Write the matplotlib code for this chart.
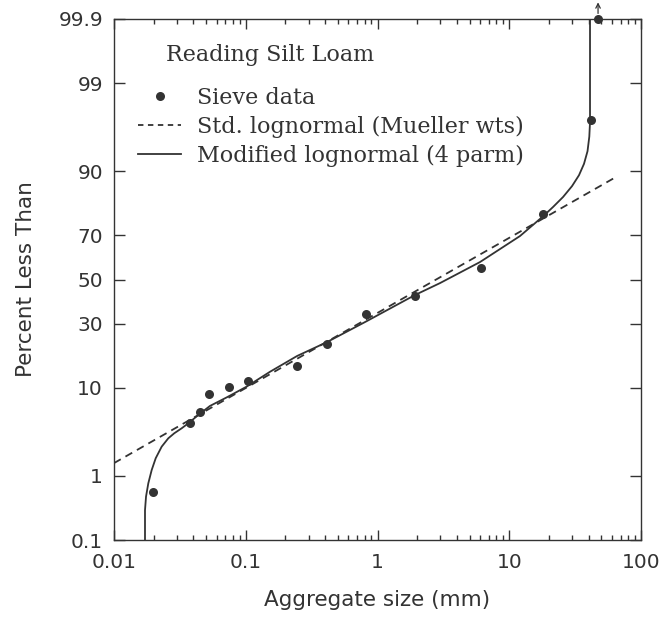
import math
import numpy as np
import matplotlib
matplotlib.use("Agg")
import matplotlib.pyplot as plt
from matplotlib.ticker import FixedLocator, NullLocator, LogLocator, FuncFormatter
from matplotlib.lines import Line2D

# sieve data (size in mm, percent less than)
sieve_size = [0.0198, 0.0377, 0.045, 0.0526, 0.0746, 0.104, 0.245, 0.414,
              0.818, 1.93, 6.1, 18.0, 41.8, 47.2]
sieve_pct = [0.58, 4.4, 5.8, 8.7, 10.1, 11.4, 15.2, 22.2,
             34.1, 42.2, 55.4, 78.1, 97.1, 99.9]

# standard lognormal fit (straight line on probability paper)
std_size = [0.01, 64.6]
std_pct = [1.47, 88.8]

# modified lognormal (4 parm)
mod_size = [0.01719, 0.01719, 0.01750, 0.01821, 0.01932, 0.02073, 0.02301,
            0.02583, 0.02869, 0.03264, 0.03664, 0.04364, 0.0535, 0.0717,
            0.1017, 0.153, 0.245, 0.414, 0.818, 1.926, 2.981, 5.998,
            12.07, 18.13, 21.48, 25.59, 29.95, 33.84, 36.93, 39.27, 40.52,
            41.02, 41.02]
mod_pct = [0.1, 0.31, 0.50, 0.78, 1.19, 1.70, 2.37,
           2.98, 3.41, 3.88, 4.40, 5.40, 6.68, 8.1,
           10.2, 13.7, 18.2, 22.9, 30.9, 42.7, 48.3, 58.2,
           69.7, 77.4, 80.5, 83.6, 86.6, 89.2, 91.5, 93.6, 95.5,
           96.9, 99.9]

y_ticks = [0.1, 1, 10, 30, 50, 70, 90, 99, 99.9]
x_ticks = [0.01, 0.1, 1, 10, 100]

INK = "#333333"

_erf = np.vectorize(math.erf, otypes=[float])


def pct_to_z(p):
    # percent -> standard normal quantile (Newton iterations)
    p = np.clip(np.asarray(p, dtype=float) / 100.0, 1e-9, 1 - 1e-9)
    z = np.zeros_like(p)
    for _ in range(60):
        cdf = 0.5 * (1.0 + _erf(z / math.sqrt(2.0)))
        pdf = np.exp(-0.5 * z * z) / math.sqrt(2.0 * math.pi)
        z = z - (cdf - p) / pdf
    return z


def z_to_pct(z):
    z = np.asarray(z, dtype=float)
    return 50.0 * (1.0 + _erf(z / math.sqrt(2.0)))


fig = plt.figure(figsize=(6.67, 6.2), dpi=100)
ax = fig.add_axes([114 / 667, 80 / 620, 527 / 667, 521 / 620])

ax.set_xscale("log")
ax.set_yscale("function", functions=(pct_to_z, z_to_pct))
ax.set_xlim(0.01, 100)
ax.set_ylim(0.1, 99.9)

ax.plot(mod_size, mod_pct, color=INK, lw=1.3, zorder=3)
ax.plot(std_size, std_pct, color=INK, lw=1.3, ls=(0, (4.3, 3)), zorder=3)
ax.plot(sieve_size, sieve_pct, "o", color=INK, ms=6.5, mew=0, zorder=4,
        clip_on=False)

# last point is off the scale: little arrow above it
ax.annotate("", xy=(sieve_size[-1], 99.9), xytext=(0, 12),
            textcoords="offset points", annotation_clip=False,
            arrowprops=dict(arrowstyle="<-", color=INK, lw=0.9,
                            shrinkA=0, shrinkB=4, mutation_scale=8))

# axes styling
ax.xaxis.set_major_locator(FixedLocator(x_ticks))
ax.xaxis.set_minor_locator(LogLocator(base=10, subs=np.arange(2, 10)))
ax.xaxis.set_major_formatter(FuncFormatter(lambda v, pos: "%g" % v))
ax.yaxis.set_major_locator(FixedLocator(y_ticks))
ax.yaxis.set_minor_locator(NullLocator())
ax.yaxis.set_major_formatter(FuncFormatter(lambda v, pos: "%g" % v))

ax.tick_params(which="both", direction="in", top=True, right=True,
               colors=INK, width=1.0)
ax.tick_params(axis="x", which="major", length=7, pad=9, labelsize=14.5)
ax.tick_params(axis="x", which="minor", length=3.5)
ax.tick_params(axis="y", which="major", length=8, pad=8, labelsize=14.5)
for s in ax.spines.values():
    s.set_color(INK)
    s.set_linewidth(1.0)

ax.set_xlabel("Aggregate size (mm)", fontsize=15.5, color=INK, labelpad=13)
ax.set_ylabel("Percent Less Than", fontsize=15.5, color=INK, labelpad=16)

# title inside and legend
serif = "DejaVu Serif"
ax.text(0.0987, 0.931, "Reading Silt Loam", transform=ax.transAxes,
        fontsize=16, family=serif, color=INK, va="center", ha="left")

handles = [
    Line2D([], [], ls="none", marker="o", color=INK, ms=6.5, mew=0),
    Line2D([], [], color=INK, lw=1.3, ls=(0, (3, 2.5))),
    Line2D([], [], color=INK, lw=1.3),
]
labels = ["Sieve data", "Std. lognormal (Mueller wts)",
          "Modified lognormal (4 parm)"]
ax.legend(handles, labels, loc="upper left", bbox_to_anchor=(0.0455, 0.87),
          frameon=False, borderpad=0, borderaxespad=0, handlelength=1.95,
          handletextpad=0.72, labelspacing=0.31,
          prop={"family": serif, "size": 16}, labelcolor=INK)

fig.savefig("out.png", dpi=100, facecolor="white")
